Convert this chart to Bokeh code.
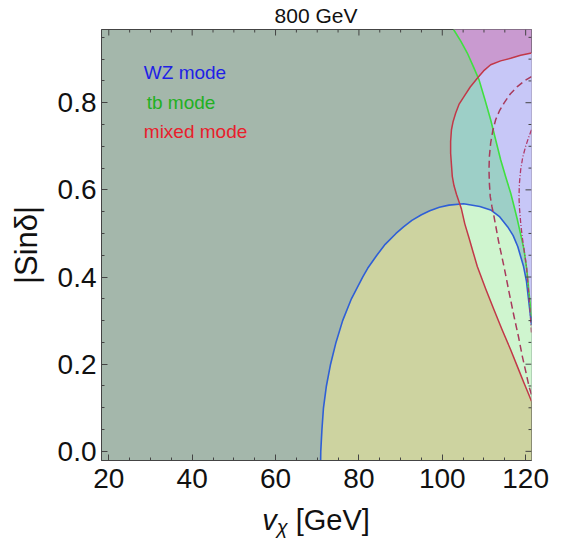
import numpy as np
from bokeh.plotting import figure
from bokeh.models import Range1d, Label, SingleIntervalTicker, PrintfTickFormatter, Div
from bokeh.layouts import column
from bokeh.embed import file_html
from bokeh.resources import INLINE

# ---------------- data ----------------
title_text = "800 GeV"
x_label_v = "v"
x_label_sub = "χ"
x_label_unit = "[GeV]"
y_label = "|Sinδ|"
legend_labels = ["WZ mode", "tb mode", "mixed mode"]

x_major = [20, 40, 60, 80, 100, 120]
y_major = [0.0, 0.2, 0.4, 0.6, 0.8]
x_minor_step = 5
y_minor_step = 0.05

# WZ-mode boundary (blue)
wz_x = [70.8, 70.85, 71.13, 71.5, 72.2, 73.2, 74.5, 76.1, 78.2, 80.9, 82.1, 84.3, 86.3,
        88.9, 90.7, 92.7, 95.0, 97.0, 99.3, 101.6, 105.1, 109.0, 111.6, 113.8, 115.7,
        117.0, 118.1, 119.5, 120.2, 120.7, 121.4]
wz_y = [-0.03, 0.0, 0.05, 0.1, 0.15, 0.2, 0.25, 0.3, 0.35, 0.4, 0.42, 0.45, 0.475,
        0.5, 0.515, 0.53, 0.543, 0.552, 0.56, 0.565, 0.568, 0.562, 0.554, 0.538, 0.515,
        0.495, 0.47, 0.424, 0.39, 0.348, 0.29]

# tb-mode boundary (green)
tb_x = [102.7, 104.4, 106.0, 107.4, 108.8, 110.2, 111.6, 112.8, 114.0, 115.2, 116.4,
        117.2, 118.0, 118.8, 119.6, 120.3, 120.8, 121.4]
tb_y = [0.968, 0.942, 0.914, 0.884, 0.853, 0.808, 0.761, 0.715, 0.669, 0.630, 0.593,
        0.563, 0.532, 0.498, 0.463, 0.415, 0.364, 0.31]

# mixed-mode boundary (red, solid)
mx_x = [121.4, 118.8, 116.4, 114.0, 111.6, 109.9, 108.4, 106.7, 105.2, 104.0, 103.2,
        102.6, 102.2, 102.0, 102.0, 102.4, 102.8, 103.4, 104.6, 105.4, 106.4, 107.4,
        108.4, 110.4, 112.4, 114.4, 116.4, 118.0, 119.6, 120.5, 121.4]
mx_y = [0.914, 0.909, 0.902, 0.896, 0.887, 0.873, 0.856, 0.836, 0.814, 0.796, 0.776,
        0.757, 0.738, 0.711, 0.684, 0.631, 0.61, 0.59, 0.556, 0.522, 0.49, 0.457,
        0.424, 0.373, 0.325, 0.278, 0.233, 0.195, 0.157, 0.136, 0.115]

# mixed-mode (red, dashed)
md_x = [121.4, 119.7, 118.0, 116.3, 114.8, 113.7, 112.8, 112.1, 111.6, 111.3, 111.2,
        111.3, 111.5, 111.9, 112.4, 113.5, 114.8, 116.0, 117.2, 118.3, 119.2, 120.1, 120.8, 121.4]
md_y = [0.86, 0.85, 0.837, 0.82, 0.799, 0.781, 0.761, 0.735, 0.707, 0.677, 0.646,
        0.615, 0.585, 0.562, 0.539, 0.482, 0.424, 0.366, 0.31, 0.262, 0.218, 0.18, 0.149, 0.13]

# mixed-mode (red, dot-dashed)
mdd_x = [121.4, 120.7, 120.0, 119.3, 118.8, 118.5, 118.4, 118.5, 118.8, 119.2, 119.7,
         120.2, 120.6, 121.0, 121.4]
mdd_y = [0.738, 0.72, 0.70, 0.675, 0.646, 0.615, 0.585, 0.56, 0.525, 0.49, 0.457,
         0.424, 0.38, 0.33, 0.27]

x_lo, x_hi = 18.25, 121.4
y_lo, y_hi = -0.021, 0.968

# ---------------- colours ----------------
base_col = "#a4b7ab"
olive_col = "#cdd3a0"
teal_col = "#9dcfc7"
mint_col = "#cff5cf"
magenta_col = "#c99ad0"
lav_col = "#c7c7f7"

FONT = "Liberation Sans"
FRAME_W, FRAME_H = 430, 431
B_LEFT, B_RIGHT, B_TOP, B_BOTTOM = 101, 24, 1, 45
FIG_W = B_LEFT + FRAME_W + B_RIGHT

wz_x_a, wz_y_a = np.array(wz_x), np.array(wz_y)
tb_x_a, tb_y_a = np.array(tb_x), np.array(tb_y)
mx_x_a, mx_y_a = np.array(mx_x), np.array(mx_y)
EDGE = x_hi + 2.0


def green_x_at(y):
    return np.interp(y, tb_y_a[::-1], tb_x_a[::-1])


def blue_y_at(x):
    return np.interp(x, wz_x_a, wz_y_a)


def crossing(xs, ys, d, start):
    for i in range(start, len(xs) - 1):
        if d[i] == 0 or d[i] * d[i + 1] < 0:
            t = d[i] / (d[i] - d[i + 1])
            return i, xs[i] + t * (xs[i + 1] - xs[i]), ys[i] + t * (ys[i + 1] - ys[i])
    return None


p = figure(frame_width=FRAME_W, frame_height=FRAME_H,
           x_range=Range1d(x_lo, x_hi), y_range=Range1d(y_lo, y_hi),
           output_backend="svg", toolbar_location=None,
           min_border_left=B_LEFT, min_border_right=B_RIGHT,
           min_border_top=B_TOP, min_border_bottom=B_BOTTOM,
           background_fill_color=base_col, border_fill_color="white",
           outline_line_color="#444444")
p.grid.visible = False

# WZ region
p.patch(list(wz_x) + [EDGE, EDGE, wz_x[0]], list(wz_y) + [wz_y[-1], -0.1, -0.1],
        fill_color=olive_col, line_color=None)
# mixed region
p.patch(list(mx_x) + [EDGE, EDGE], list(mx_y) + [mx_y[-1], mx_y[0]],
        fill_color=teal_col, line_color=None)
# mixed ∩ WZ
imin = int(np.argmin(mx_x_a))
d1 = mx_y_a - blue_y_at(mx_x_a)
i1, c1x, c1y = crossing(mx_x_a, mx_y_a, d1, imin)
sel_b = wz_x_a > c1x
p.patch([c1x] + list(mx_x[i1 + 1:]) + [EDGE, EDGE] + list(wz_x_a[sel_b][::-1]),
        [c1y] + list(mx_y[i1 + 1:]) + [mx_y[-1], wz_y[-1]] + list(wz_y_a[sel_b][::-1]),
        fill_color=mint_col, line_color=None)
# tb region
p.patch(list(tb_x) + [EDGE, EDGE, tb_x[0]], list(tb_y) + [tb_y[-1], 1.05, 1.05],
        fill_color=magenta_col, line_color=None)
# tb ∩ mixed
d2 = mx_x_a - green_x_at(mx_y_a)
i2, c2x, c2y = crossing(mx_x_a, mx_y_a, d2, 0)
sel_g = tb_y_a < c2y
p.patch([c2x] + list(tb_x_a[sel_g]) + [EDGE, EDGE] + list(mx_x[:i2 + 1]),
        [c2y] + list(tb_y_a[sel_g]) + [tb_y[-1], mx_y[0]] + list(mx_y[:i2 + 1]),
        fill_color=lav_col, line_color=None)

# boundary lines
p.line(wz_x, wz_y, line_color="#2f5fd6", line_width=1.6, line_join="round")
p.line(tb_x, tb_y, line_color="#40e040", line_width=1.6, line_join="round")
p.line(mx_x, mx_y, line_color="#c23848", line_width=1.5, line_join="round")
p.line(md_x, md_y, line_color="#a83a5c", line_width=1.5, line_dash="7 4")
p.line(mdd_x, mdd_y, line_color="#b03a6a", line_width=1.3, line_dash="5 2 1 2")

# mirrored ticks on top and right edges of the frame
px_per_x = FRAME_W / (x_hi - x_lo)
px_per_y = FRAME_H / (y_hi - y_lo)
x_minor = [v for v in np.arange(x_major[0], x_major[-1] + 0.01, x_minor_step) if v not in x_major]
y_minor = [v for v in np.arange(y_major[0], y_hi, y_minor_step)
           if min(abs(v - m) for m in y_major) > 1e-6]
tick_col = "#444444"
p.segment(x0=x_major, y0=[y_hi] * len(x_major), x1=x_major, y1=[y_hi - 6 / px_per_y] * len(x_major),
          line_color=tick_col, line_width=1)
p.segment(x0=x_minor, y0=[y_hi] * len(x_minor), x1=x_minor, y1=[y_hi - 3 / px_per_y] * len(x_minor),
          line_color=tick_col, line_width=1)
p.segment(x0=[x_hi] * len(y_major), y0=y_major, x1=[x_hi - 6 / px_per_x] * len(y_major), y1=y_major,
          line_color=tick_col, line_width=1)
p.segment(x0=[x_hi] * len(y_minor), y0=y_minor, x1=[x_hi - 3 / px_per_x] * len(y_minor), y1=y_minor,
          line_color=tick_col, line_width=1)


def style_axis(ax, ticker):
    ax.ticker = ticker
    ax.major_tick_in = 6
    ax.major_tick_out = 0
    ax.minor_tick_in = 3
    ax.minor_tick_out = 0
    ax.major_tick_line_color = tick_col
    ax.minor_tick_line_color = tick_col
    ax.axis_line_color = tick_col
    ax.major_label_text_font = FONT
    ax.major_label_text_color = "#111111"
    ax.major_label_text_font_size = "28px"


style_axis(p.xaxis[0], SingleIntervalTicker(interval=20, num_minor_ticks=4))
style_axis(p.yaxis[0], SingleIntervalTicker(interval=0.2, num_minor_ticks=4))
p.xaxis[0].major_label_standoff = 8
p.yaxis[0].major_label_standoff = 5
p.yaxis[0].formatter = PrintfTickFormatter(format="%.1f")
p.yaxis[0].axis_label = y_label
p.yaxis[0].axis_label_text_font = FONT
p.yaxis[0].axis_label_text_font_style = "normal"
p.yaxis[0].axis_label_text_font_size = "31px"
p.yaxis[0].axis_label_text_color = "#111111"
p.yaxis[0].axis_label_standoff = 11

# legend texts
leg_cols = ["#1f1fe6", "#22b022", "#e8202c"]
leg_x = [28.4, 29.1, 28.4]
leg_y = [0.869, 0.80, 0.733]
for t, c, lx, ly in zip(legend_labels, leg_cols, leg_x, leg_y):
    p.add_layout(Label(x=lx, y=ly, text=t, text_color=c, text_font=FONT,
                       text_font_size="19px", text_baseline="middle"))

# title above, axis label below (HTML text so the subscript can be styled)
title_div = Div(width=FIG_W, height=28, margin=(0, 0, 0, 0),
                text=(f'<div style="margin-left:{B_LEFT}px;width:{FRAME_W}px;text-align:center;'
                      f"font-family:'{FONT}';font-size:21px;line-height:21px;padding-top:5px;"
                      f'color:#111;white-space:nowrap">{title_text}</div>'))
xlab_div = Div(width=FIG_W, height=34, margin=(0, 0, 0, 0),
               text=(f'<div style="margin-left:{B_LEFT}px;width:{FRAME_W}px;text-align:center;'
                     f"font-family:'{FONT}';font-size:29px;line-height:29px;padding-top:1px;"
                     f'color:#111;white-space:nowrap"><i>{x_label_v}</i>'
                     f'<span style="font-size:20px;font-style:italic;position:relative;top:4px">'
                     f'{x_label_sub}</span> {x_label_unit}</div>'))

layout = column(title_div, p, xlab_div, spacing=0)
open("out.html", "w").write(file_html(layout, INLINE))
